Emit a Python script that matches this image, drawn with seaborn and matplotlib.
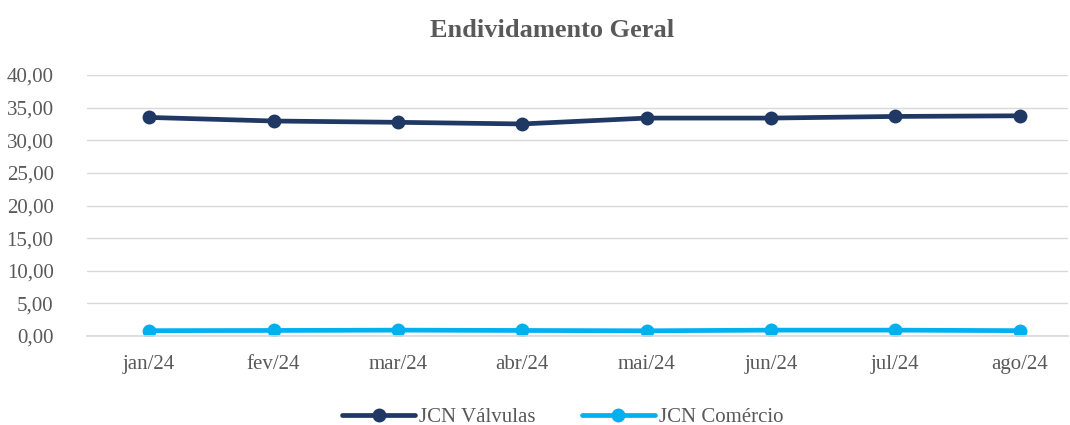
import pandas as pd
import matplotlib.pyplot as plt
import seaborn as sns

months = ["jan/24", "fev/24", "mar/24", "abr/24", "mai/24", "jun/24", "jul/24", "ago/24"]
valvulas = [33.50, 32.95, 32.75, 32.50, 33.40, 33.40, 33.65, 33.75]
comercio = [0.82, 0.85, 0.90, 0.85, 0.80, 0.90, 0.90, 0.82]
series_names = ["JCN Válvulas", "JCN Comércio"]
colors = ["#203864", "#00B0F0"]


def main():
    df = pd.DataFrame({"month": months * 2,
                       "value": valvulas + comercio,
                       "series": [series_names[0]] * len(months) + [series_names[1]] * len(months)})
    df["x"] = list(range(len(months))) * 2

    sns.set_theme(style="white")
    plt.rcParams["font.family"] = ["Liberation Serif", "DejaVu Serif"]
    text_color = "#595959"

    fig = plt.figure(figsize=(10.7, 4.25), dpi=100)
    ax = fig.add_axes([0.0813, 0.2094, 0.917, 0.6141])

    sns.lineplot(data=df, x="x", y="value", hue="series", palette=colors,
                 marker="o", markersize=10, markeredgewidth=0, linewidth=3.4,
                 ax=ax, legend=True)

    ax.set_ylim(0, 40)
    ax.set_yticks(range(0, 41, 5))
    ax.set_yticklabels([f"{v},00" for v in range(0, 41, 5)])
    ax.set_xlim(-0.5, 7.39)
    ax.set_xticks(range(len(months)))
    ax.set_xticklabels(months)
    ax.grid(axis="y", color="#D9D9D9", linewidth=1)
    ax.set_axisbelow(True)
    for s in ["top", "right", "left"]:
        ax.spines[s].set_visible(False)
    ax.spines["bottom"].set_color("#D9D9D9")
    ax.tick_params(axis="both", colors=text_color, labelsize=15, length=0)
    ax.tick_params(axis="x", pad=14)
    ax.tick_params(axis="y", pad=24)
    ax.set_xlabel("")
    ax.set_ylabel("")

    fig.suptitle("Endividamento Geral", x=0.516, y=0.955, fontsize=19,
                 fontweight="bold", color=text_color)

    handles, labels = ax.get_legend_handles_labels()
    ax.legend(handles, labels, loc="lower center", bbox_to_anchor=(0.485, -0.42),
              ncol=2, frameon=False, fontsize=15, handlelength=3.5,
              columnspacing=2.2, handletextpad=0.2, labelcolor=text_color)

    fig.savefig("out.png", dpi=100)


if __name__ == "__main__":
    main()
